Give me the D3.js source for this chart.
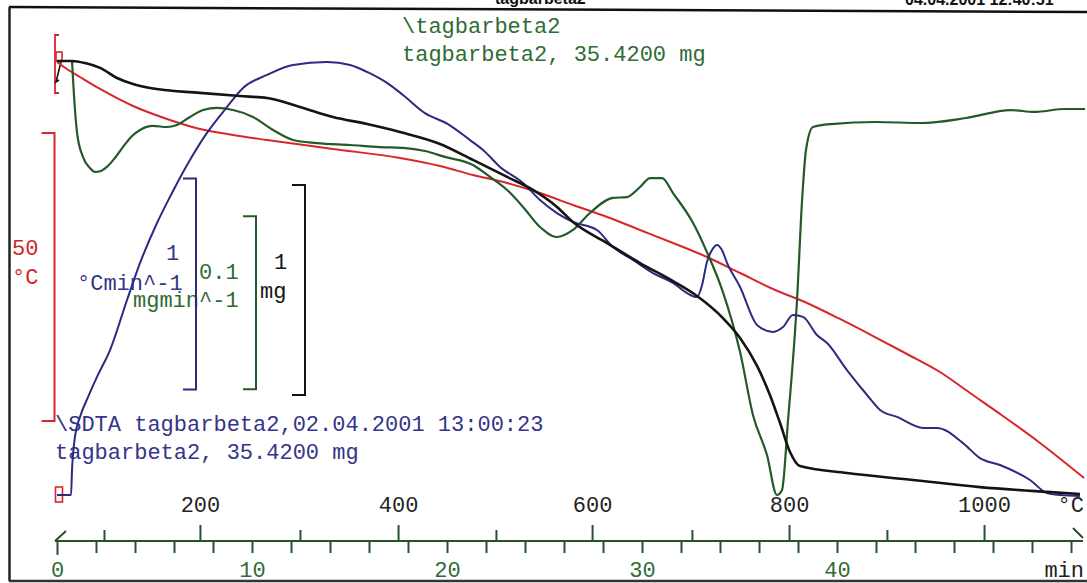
<!DOCTYPE html>
<html><head><meta charset="utf-8">
<script src="https://cdn.jsdelivr.net/npm/d3@7"></script>
<style>html,body{margin:0;padding:0;background:#fff;overflow:hidden}</style>
</head><body>
<svg id="c" width="1087" height="583"></svg>
<script>
// ---------- DATA ----------
// TGA (black) : sample mass, mg
const tgaMin = [0,0.77,1.44,2.21,3.08,3.90,4.77,7.33,9.38,10.77,12.46,14.15,15.90,17.59,19.64,21.33,23.08,24.41,25.64,26.46,28.21,29.90,31.59,32.82,34.15,35.03,35.90,36.56,37.08,37.59,38.10,40.51,43.90,47.33,50.77,52.46];
const tgaMg = [35.420,35.420,35.410,35.387,35.339,35.310,35.291,35.268,35.253,35.244,35.201,35.153,35.120,35.082,35.025,34.949,34.868,34.806,34.725,34.653,34.553,34.458,34.372,34.301,34.196,34.101,33.968,33.830,33.696,33.558,33.491,33.458,33.425,33.391,33.368,33.358];
// DTG (green) : mg/min
const dtgMin = [0.77,0.87,1.03,1.33,1.69,1.95,2.26,2.56,2.97,3.38,3.85,4.26,4.92,5.64,6.15,6.82,7.49,8.21,9.03,10.05,11.08,12.10,13.33,15.03,16.56,17.74,18.87,19.90,21.33,22.21,23.08,23.90,24.77,25.64,26.46,27.33,28.51,29.23,29.90,30.41,31.03,31.59,32.62,33.33,34.15,35.03,35.69,36.41,36.92,37.18,37.49,37.95,38.21,38.41,38.77,39.69,42.00,44.31,46.62,48.92,50.10,51.69,52.72];
const dtgVal = [0.0277,0.0081,-0.0139,-0.0277,-0.0341,-0.0364,-0.0358,-0.0335,-0.0283,-0.0220,-0.0156,-0.0121,-0.0098,-0.0104,-0.0092,-0.0046,-0.0006,0.0006,-0.0006,-0.0046,-0.0121,-0.0179,-0.0197,-0.0208,-0.0220,-0.0225,-0.0243,-0.0277,-0.0324,-0.0393,-0.0468,-0.0566,-0.0682,-0.0740,-0.0699,-0.0601,-0.0514,-0.0509,-0.0451,-0.0399,-0.0399,-0.0486,-0.0659,-0.0827,-0.1058,-0.1405,-0.1769,-0.2000,-0.2231,-0.2202,-0.1798,-0.1104,-0.0526,-0.0237,-0.0104,-0.0087,-0.0075,-0.0081,-0.0052,-0.0006,-0.0017,0,0];
// SDTA derivative (blue) : °C/min
const dsdtaMin = [0,0.31,0.72,0.77,0.82,0.92,1.18,1.59,2.10,2.72,3.59,4.26,5.13,5.79,6.67,7.69,8.72,9.54,10.77,12.10,13.85,15.03,15.90,16.92,17.74,18.87,20.05,21.18,21.85,22.72,23.90,24.77,25.64,26.46,27.69,28.51,29.54,30.56,31.59,32.31,32.82,33.08,33.33,33.59,33.85,34.10,34.36,35.03,35.90,36.72,37.23,37.74,38.26,38.97,39.49,40.51,41.54,42.21,43.08,44.41,45.13,46.46,47.33,48.36,49.90,50.77,51.44,52.46];
const dsdtaVal = [0,0,0,0.118,0.190,0.275,0.370,0.464,0.569,0.687,0.924,1.100,1.289,1.412,1.564,1.716,1.839,1.929,1.991,2.038,2.052,2.038,2.005,1.953,1.896,1.810,1.758,1.682,1.635,1.555,1.479,1.398,1.336,1.294,1.256,1.175,1.114,1.052,1.005,0.957,0.938,0.995,1.104,1.161,1.185,1.161,1.100,0.986,0.806,0.773,0.796,0.853,0.844,0.758,0.720,0.592,0.474,0.403,0.370,0.318,0.318,0.246,0.175,0.142,0.071,0.009,0,-0.005];
// SDTA (red) : °C
const sdtaMin = [0,0.51,1.18,2.21,3.90,5.64,7.33,9.03,10.77,14.15,17.59,19.64,21.33,23.08,24.77,26.46,28.21,29.90,31.59,33.33,35.03,36.72,38.46,40.15,41.85,43.59,45.28,46.82,48.51,50.41,52.67];
const sdtaVal = [75.17,73.96,72.57,70.49,67.53,65.28,63.54,62.50,61.63,60.07,58.51,57.12,55.56,54.17,52.43,50.35,48.26,46.01,43.75,41.32,38.54,35.76,33.33,30.56,27.60,24.48,21.35,17.71,13.72,9.03,2.95];

// axes
const timeTicks = d3.range(0, 53, 2);
const timeLabels = [0, 10, 20, 30, 40];
const tempTicks = [100,200,300,400,500,600,700,800,900,1000];
const tempTickMin = [2.41,7.33,12.46,17.49,22.51,27.44,32.56,37.54,42.56,47.54];
const tempLabels = [200,400,600,800,1000];

// scale bars (from, to) in series units
const barRed = [12.85, 62.85];     // 50 °C
const barBlue = [0.5, 1.5];        // 1 °C/min
const barGreen = [-0.062, -0.162]; // 0.1 mg/min
const barBlack = [34.83, 33.83];   // 1 mg

// ---------- DRAW ----------
const C = {red:"#d8262b", blue:"#2b2b80", green:"#245a29", black:"#141414",
           tRed:"#d02424", tBlue:"#34348a", tGreen:"#2f6b34", axis:"#28512c"};
const FONT = "'Liberation Mono','Courier New',monospace";
const svg = d3.select("#c");
svg.append("rect").attr("width",1087).attr("height",583).attr("fill","#fff");

const x = d3.scaleLinear().domain([0, 52.5]).range([57, 57 + 19.5*52.5]);
const yTGA = d3.scaleLinear().domain([35.42, 34.42]).range([61, 271]);
const yDTG = d3.scaleLinear().domain([0, -0.1]).range([109, 282]);
const yDS = d3.scaleLinear().domain([0, 1]).range([495, 284]);
const yS = d3.scaleLinear().domain([0, 50]).range([495, 207]);
const tempX = d3.scaleLinear().domain(tempTicks).range(tempTickMin.map(x));

// frame
svg.append("path").attr("d","M9,7 L1087,12").attr("stroke","#111").attr("stroke-width",2.5).attr("fill","none");
svg.append("path").attr("d","M9.5,7 V581").attr("stroke","#222").attr("stroke-width",2.5).attr("fill","none");
svg.append("path").attr("d","M9,581 H1087").attr("stroke","#333").attr("stroke-width",2.5).attr("fill","none");
// clipped header
svg.append("text").attr("x",495).attr("y",4).attr("font-family","'Liberation Sans',Arial,sans-serif")
  .attr("font-weight","bold").attr("font-size",16).attr("fill","#111").text("tagbarbeta2");
svg.append("text").attr("x",905).attr("y",5).attr("font-family","'Liberation Sans',Arial,sans-serif")
  .attr("font-weight","bold").attr("font-size",16).attr("fill","#111").text("04.04.2001 12:40:51");

// texts
function txt(xx, yy, s, col){
  svg.append("text").attr("x",xx).attr("y",yy).attr("font-family",FONT).attr("font-size",22)
    .attr("fill",col).text(s);
}
txt(402, 33, "\\tagbarbeta2", C.tGreen);
txt(402, 61, "tagbarbeta2, 35.4200 mg", C.tGreen);
txt(55, 431, "\\SDTA tagbarbeta2,02.04.2001 13:00:23", C.tBlue);
txt(55, 459, "tagbarbeta2, 35.4200 mg", C.tBlue);
txt(12, 255, "50", C.tRed);
txt(12, 284, "°C", C.tRed);
txt(166, 260, "1", C.tBlue);
txt(77, 290, "°Cmin^-1", C.tBlue);
txt(199, 279, "0.1", C.tGreen);
txt(133, 307, "mgmin^-1", C.tGreen);
txt(274, 269, "1", C.black);
txt(260, 298, "mg", C.black);

// scale bars
function bar(xv, y0, y1, col, dir){
  const s = 13*dir;
  svg.append("path").attr("d",`M${xv+s},${y0} H${xv} V${y1} H${xv+s}`)
    .attr("fill","none").attr("stroke",col).attr("stroke-width",2);
}
bar(54.5, yS(barRed[1]), yS(barRed[0]), C.red, -1);
bar(196, yDS(barBlue[1]), yDS(barBlue[0]), C.blue, -1);
bar(256, yDTG(barGreen[0]), yDTG(barGreen[1]), C.green, -1);
bar(305, yTGA(barBlack[0]), yTGA(barBlack[1]), C.black, -1);

// small origin markers
svg.append("path").attr("d","M59,35 H55 V93 H59").attr("fill","none").attr("stroke",C.red).attr("stroke-width",1.8);
svg.append("rect").attr("x",56).attr("y",52).attr("width",6).attr("height",9).attr("fill","none").attr("stroke",C.red).attr("stroke-width",1.6);
svg.append("path").attr("d","M61,62 L56,82 L59,80").attr("fill","none").attr("stroke",C.black).attr("stroke-width",1.6);
svg.append("rect").attr("x",55.5).attr("y",487).attr("width",7).attr("height",15).attr("fill","none").attr("stroke",C.red).attr("stroke-width",1.6);

// axis
const axG = svg.append("g").attr("transform","translate(0,541)");
axG.append("path").attr("d",`M${x(0)-2},0 H1083 M55,0 L66,-10 M1073,-13 L1083,-3`)
  .attr("stroke",C.axis).attr("stroke-width",2).attr("fill","none");
const tAx = axG.append("g").call(d3.axisBottom(x).tickValues(timeTicks).tickSize(12)
  .tickFormat(d => timeLabels.includes(d) ? d : ""));
tAx.select(".domain").remove();
tAx.selectAll(".tick line").attr("stroke",C.axis).attr("stroke-width",2).attr("y2", d => d===0 ? 14 : 12);
tAx.selectAll(".tick text").attr("y",20).attr("font-family",FONT).attr("font-size",22).attr("fill",C.tGreen);
const TAx = axG.append("g").call(d3.axisTop(tempX).tickValues(tempTicks).tickSize(11)
  .tickFormat(d => tempLabels.includes(d) ? d : ""));
TAx.select(".domain").remove();
TAx.selectAll(".tick line").attr("stroke",C.axis).attr("stroke-width",2).attr("y2", d => tempLabels.includes(d) ? -16 : -11);
TAx.selectAll(".tick text").attr("y",-29).attr("dy",0).attr("font-family",FONT).attr("font-size",22).attr("fill","#222");
axG.append("text").attr("x",1084).attr("y",-29).attr("text-anchor","end").attr("font-family",FONT).attr("font-size",22).attr("fill","#222").text("°C");
axG.append("text").attr("x",1084).attr("y",36).attr("text-anchor","end").attr("font-family",FONT).attr("font-size",22).attr("fill","#222").text("min");

// curves
function curve(ts, vs, ys, col, w){
  const line = d3.line().x(d => x(d[0])).y(d => ys(d[1])).curve(d3.curveMonotoneX);
  svg.append("path").datum(d3.zip(ts, vs)).attr("d", line)
    .attr("fill","none").attr("stroke",col).attr("stroke-width",w).attr("stroke-linejoin","round");
}
curve(sdtaMin, sdtaVal, yS, C.red, 2);
curve(dtgMin, dtgVal, yDTG, C.green, 2.2);
curve(dsdtaMin, dsdtaVal, yDS, C.blue, 2);
curve(tgaMin, tgaMg, yTGA, C.black, 2.6);
</script>
</body></html>
